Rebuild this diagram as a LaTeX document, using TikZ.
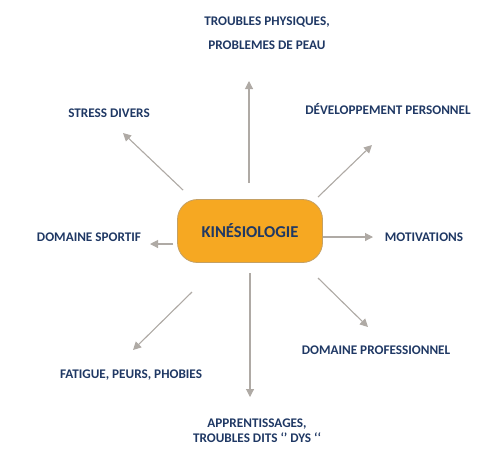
\documentclass[tikz,border=0pt]{standalone}
\usepackage{fontspec}
\setmainfont{Carlito}
\usetikzlibrary{arrows.meta,positioning}
\definecolor{navy}{RGB}{31,56,100}
\definecolor{kinfill}{RGB}{246,168,34}
\definecolor{kinedge}{RGB}{196,160,100}
\definecolor{arrgray}{RGB}{175,170,165}

\begin{document}
\begin{tikzpicture}[x=1pt, y=-1pt, >={Triangle[length=8pt, width=8pt]},
    lbl/.style={text=navy, font=\bfseries\fontsize{13.2}{15}\selectfont, align=center, inner sep=0pt},
    arr/.style={->, draw=arrgray, fill=arrgray, line width=1.1pt}]
    \useasboundingbox (0,0) rectangle (502,467);

    % Centre
    \node[draw=kinedge, fill=kinfill, line width=0.8pt, rounded corners=20pt, minimum width=145pt, minimum height=63pt, text=navy, font=\bfseries\fontsize{16.6}{18}\selectfont] (kin) at (250,231) {KINÉSIOLOGIE};

    % Themes
    \node[lbl, font=\bfseries\fontsize{13.2}{24}\selectfont] (lTop) at (267,33) {TROUBLES PHYSIQUES,\\PROBLEMES DE PEAU};
    \node[lbl] (lStress) at (109,113) {STRESS DIVERS};
    \node[lbl] (lDev) at (388,109) {DÉVELOPPEMENT PERSONNEL};
    \node[lbl] (lSport) at (89,237) {DOMAINE SPORTIF};
    \node[lbl] (lMotiv) at (424,237) {MOTIVATIONS};
    \node[lbl] (lFat) at (131,375) {FATIGUE, PEURS, PHOBIES};
    \node[lbl] (lPro) at (376,350) {DOMAINE PROFESSIONNEL};
    \node[lbl] (lBottom) at (257,431) {APPRENTISSAGES,\\TROUBLES DITS ‘’ DYS ‘‘};

    % Arrow ends
    \coordinate (aTop) at (249,183);    \coordinate (bTop) at (249,81);
    \coordinate (aBot) at (250,273);    \coordinate (bBot) at (250,397);
    \coordinate (aW) at (173,244);      \coordinate (bW) at (150,244);
    \coordinate (aE) at (323,237);      \coordinate (bE) at (373,237);
    \coordinate (aNE) at (318,197);     \coordinate (bNE) at (372,145);
    \coordinate (aNW) at (183,190);     \coordinate (bNW) at (123,133);
    \coordinate (aSW) at (192,292);     \coordinate (bSW) at (133,350);
    \coordinate (aSE) at (318,278);     \coordinate (bSE) at (368,327);

    \foreach \d in {Top,Bot,W,E,NE,NW,SW,SE}
        \draw[arr] (a\d) -- (b\d);
\end{tikzpicture}
\end{document}
